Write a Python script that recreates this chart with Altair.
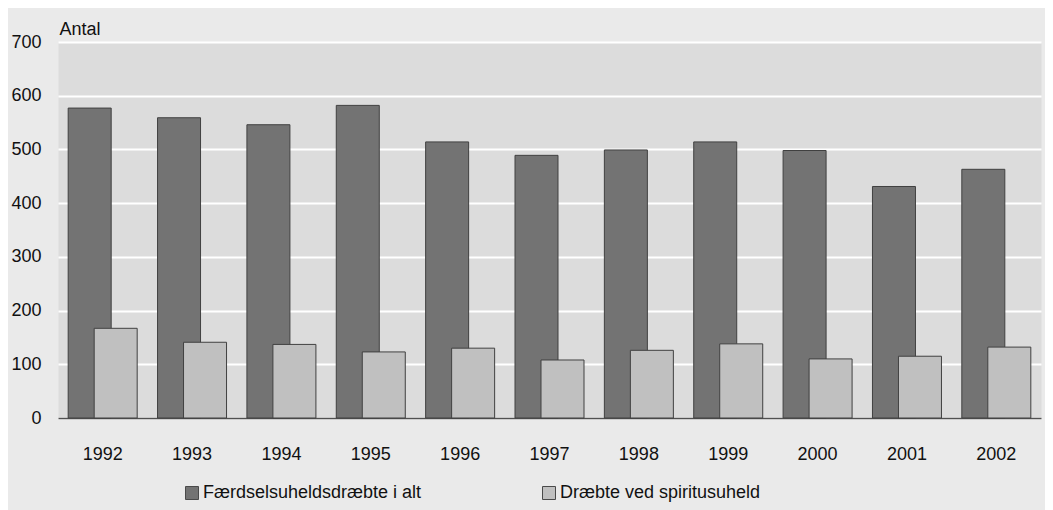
import altair as alt
import pandas as pd

years = ["1992", "1993", "1994", "1995", "1996", "1997", "1998", "1999", "2000", "2001", "2002"]
total_killed = [577, 559, 546, 582, 514, 489, 499, 514, 498, 431, 463]
alcohol_killed = [167, 141, 137, 123, 130, 108, 126, 138, 110, 115, 132]
series_names = ["Færdselsuheldsdræbte i alt", "Dræbte ved spiritusuheld"]
y_ticks = [0, 100, 200, 300, 400, 500, 600, 700]

df = pd.DataFrame(
    {
        "year": years * 2,
        "value": total_killed + alcohol_killed,
        "series": [series_names[0]] * len(years) + [series_names[1]] * len(years),
    }
)

FONT = "Liberation Sans"

color = alt.Color(
    "series:N",
    scale=alt.Scale(domain=series_names, range=["#737373", "#C0C0C0"]),
    legend=alt.Legend(
        title=None,
        orient="none",
        direction="horizontal",
        legendX=125,
        legendY=442,
        padding=0,
        symbolType="square",
        symbolSize=169,
        symbolStrokeColor="#4a4a4a",
        symbolStrokeWidth=1,
        symbolOpacity=1,
        labelFont=FONT,
        labelFontSize=18,
        labelColor="#111111",
        labelLimit=400,
        labelOffset=2,
        columnPadding=118,
    ),
)

x = alt.X(
    "year:N",
    sort=years,
    scale=alt.Scale(paddingInner=0, paddingOuter=0),
    axis=alt.Axis(
        title=None,
        labelAngle=0,
        ticks=False,
        tickSize=0,
        labelPadding=41,
        labelBaseline="alphabetic",
        labelFont=FONT,
        labelFontSize=18,
        labelColor="#111111",
        domain=True,
        domainColor="#505050",
        domainWidth=1.5,
        grid=False,
    ),
)

y = alt.Y(
    "value:Q",
    scale=alt.Scale(domain=[0, 700], nice=False),
    axis=alt.Axis(
        values=y_ticks,
        title="Antal",
        titleAngle=0,
        titleX=1,
        titleY=-8,
        titleAlign="left",
        titleBaseline="alphabetic",
        titleFont=FONT,
        titleFontSize=18,
        titleFontWeight="normal",
        titleColor="#111111",
        ticks=False,
        tickSize=0,
        domain=False,
        labelPadding=17,
        labelFont=FONT,
        labelFontSize=18,
        labelColor="#111111",
        grid=True,
        gridColor="#ffffff",
        gridWidth=2,
    ),
)

dark = (
    alt.Chart(df)
    .transform_filter(alt.datum.series == series_names[0])
    .mark_bar(width=43, xOffset=-13, stroke="#404040", strokeWidth=1)
    .encode(x=x, y=y, color=color)
)

light = (
    alt.Chart(df)
    .transform_filter(alt.datum.series == series_names[1])
    .mark_bar(width=43, xOffset=13, stroke="#404040", strokeWidth=1)
    .encode(x=x, y=y, color=color)
)

chart = (
    alt.layer(dark, light)
    .properties(
        width=983,
        height=376,
        background="#EAEAEA",
        padding={"left": 50, "top": 34, "right": 4, "bottom": 92},
        autosize=alt.AutoSizeParams(type="none"),
    )
    .configure_view(fill="#DCDCDC", stroke="transparent")
)

chart.save("out.html", embed_options={"renderer": "svg", "actions": False})
